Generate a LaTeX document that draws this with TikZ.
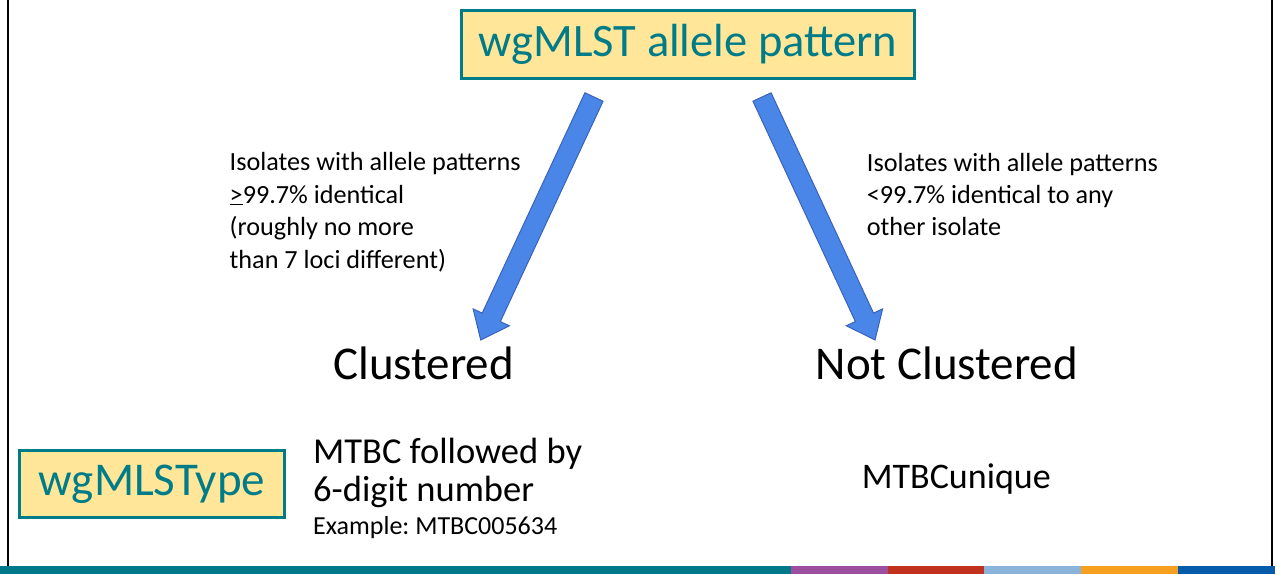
\documentclass[tikz,border=0pt]{standalone}
\usepackage{fontspec}
\setmainfont{Carlito}
\usetikzlibrary{calc,positioning}
\frenchspacing
\definecolor{wgteal}{RGB}{0,124,137}
\definecolor{wgfill}{RGB}{255,230,153}
\definecolor{arrowblue}{RGB}{74,134,232}
\definecolor{arrowedge}{RGB}{58,98,186}
\definecolor{barteal}{RGB}{0,122,138}
\definecolor{barpurple}{RGB}{155,79,158}
\definecolor{barred}{RGB}{192,49,30}
\definecolor{barlight}{RGB}{138,180,218}
\definecolor{barorange}{RGB}{245,160,31}
\definecolor{barblue}{RGB}{6,91,170}
% block arrow from #1 (tail) to #2 (tip)
\newcommand{\blockarrow}[2]{%
  \coordinate (hb) at ($(#2)!25pt!(#1)$);
  \draw[blockarrow] ($(#1)!10pt!90:(#2)$) -- ($(hb)!10pt!-90:(#1)$) -- ($(hb)!20pt!-90:(#1)$)
    -- (#2) -- ($(hb)!20pt!90:(#1)$) -- ($(hb)!10pt!90:(#1)$) -- ($(#1)!10pt!-90:(#2)$) -- cycle;}

\begin{document}
\begin{tikzpicture}[x=1pt, y=-1pt]
        \tikzstyle{tealbox}=[draw=wgteal, line width=3pt, fill=wgfill, text=wgteal, inner sep=0pt]
        \tikzstyle{txt}=[anchor=base west, inner sep=0pt, align=left]
        \tikzstyle{blockarrow}=[fill=arrowblue, draw=arrowedge, line width=1pt, line join=miter]

        \useasboundingbox (0,0) rectangle (1277,574);

        % Slide frame
        \draw[line width=2pt] (8,0) -- (8,566);
        \draw[line width=2pt] (1272,0) -- (1272,566);

        % Top box
        \node[tealbox, minimum width=453pt, minimum height=68pt, font=\fontsize{46.5}{46.5}\selectfont] (pattern) at (688,44.5) {wgMLST allele pattern};

        % Arrows
        \coordinate (ltail) at (594,97);
        \coordinate (ltip) at (480.7,340);
        \coordinate (rtail) at (762,97);
        \coordinate (rtip) at (875,340);
        \blockarrow{ltail}{ltip}
        \blockarrow{rtail}{rtip}

        % Arrow labels (anchored at the last baseline)
        \node[txt, font=\fontsize{26.2}{32.5}\selectfont] (lrule) at (229.5,268) {Isolates with allele patterns\\\underline{>}99.7\% identical\\(roughly no more\\than 7 loci different)};
        \node[txt, font=\fontsize{26.2}{32}\selectfont] (rrule) at (866.7,235.7) {Isolates with allele patterns\\<99.7\% identical to any\\other isolate};

        % Outcomes
        \node[txt, font=\fontsize{47}{47}\selectfont] (clus) at (333,379) {Clustered};
        \node[txt, font=\fontsize{47}{47}\selectfont] (notclus) at (815.5,379) {Not Clustered};

        % wgMLSType row
        \node[tealbox, minimum width=265pt, minimum height=67pt, font=\fontsize{47}{47}\selectfont] (wgtype) at (152,484) {wgMLSType};
        \node[txt, font=\fontsize{36.5}{38.7}\selectfont] (clusname) at (313,501.7) {MTBC followed by\\6-digit number};
        \node[txt, font=\fontsize{26}{26}\selectfont] (example) at (313,534) {Example: MTBC005634};
        \node[txt, font=\fontsize{36}{36}\selectfont] (uniqname) at (861.7,488.3) {MTBCunique};

        % Bottom colour bar
        \fill[barteal] (0,566) rectangle (791,574);
        \fill[barpurple] (791,566) rectangle (888,574);
        \fill[barred] (888,566) rectangle (984,574);
        \fill[barlight] (984,566) rectangle (1081,574);
        \fill[barorange] (1081,566) rectangle (1178,574);
        \fill[barblue] (1178,566) rectangle (1275,574);
\end{tikzpicture}
\end{document}
